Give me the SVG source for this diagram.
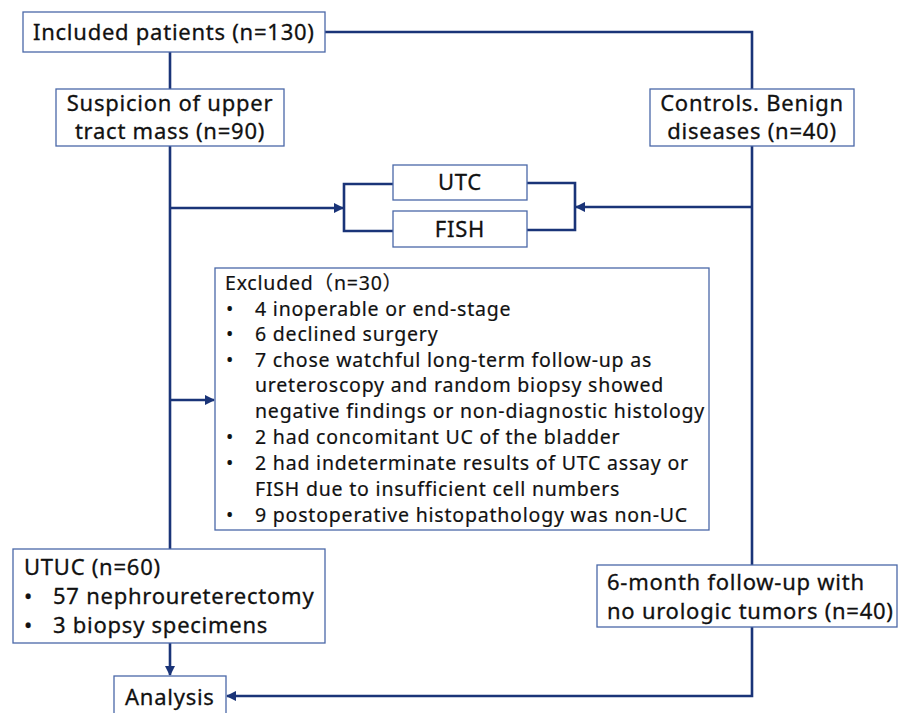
<svg xmlns="http://www.w3.org/2000/svg" width="899" height="713" viewBox="0 0 899 713">
<style>
.box{fill:#fff;stroke:#4a68a8;stroke-width:1.3}
.ln{fill:none;stroke:#1a3478;stroke-width:2.6}
.t{font-family:"Noto Sans","Noto Sans CJK SC",sans-serif;font-size:22px;letter-spacing:0.75px;fill:#111;stroke:#111;stroke-width:0.3}
.s{font-family:"Noto Sans","Noto Sans CJK SC",sans-serif;font-size:19.5px;letter-spacing:0.8px;fill:#111;stroke:#111;stroke-width:0.2}
.c{text-anchor:middle}
</style>
<defs>
<marker id="ah" viewBox="0 0 10 10" refX="9" refY="5" markerWidth="4" markerHeight="4" orient="auto" markerUnits="strokeWidth">
<path d="M0,0 L10,5 L0,10 z" fill="#1a3478"/>
</marker>
</defs>
<rect width="899" height="713" fill="#fff"/>
<g id="connectors">
<line class="ln" x1="170" y1="52" x2="170" y2="89"/>
<line class="ln" x1="170" y1="146" x2="170" y2="549"/>
<line class="ln" x1="170" y1="643" x2="170" y2="675" marker-end="url(#ah)"/>
<polyline class="ln" points="325,32 752,32 752,89"/>
<line class="ln" x1="752" y1="146" x2="752" y2="565"/>
<polyline class="ln" points="752,627 752,696 227,696" marker-end="url(#ah)"/>
<line class="ln" x1="170" y1="208" x2="343" y2="208" marker-end="url(#ah)"/>
<polyline class="ln" points="393,184 344,184 344,231 393,231"/>
<polyline class="ln" points="527,183 575,183 575,230 527,230"/>
<line class="ln" x1="752" y1="207" x2="576" y2="207" marker-end="url(#ah)"/>
<line class="ln" x1="170" y1="400" x2="214" y2="400" marker-end="url(#ah)"/>
</g>
<g id="included">
<rect class="box" x="23" y="12" width="302" height="40"/>
<text class="t" x="33" y="40">Included patients (n=130)</text>
</g>
<g id="suspicion">
<rect class="box" x="56" y="89" width="228" height="57"/>
<text class="t c" x="170" y="111">Suspicion of upper</text>
<text class="t c" x="170" y="139">tract mass (n=90)</text>
</g>
<g id="controls">
<rect class="box" x="650" y="89" width="204" height="57"/>
<text class="t c" x="752" y="111">Controls. Benign</text>
<text class="t c" x="752" y="139">diseases (n=40)</text>
</g>
<g id="utc">
<rect class="box" x="393" y="165" width="134" height="35"/>
<text class="t c" x="460" y="190">UTC</text>
</g>
<g id="fish">
<rect class="box" x="393" y="211" width="134" height="36"/>
<text class="t c" x="460" y="237">FISH</text>
</g>
<g id="excluded">
<rect class="box" x="215" y="268" width="494" height="262"/>
<text class="s" x="225" y="290">Excluded（n=30）</text>
<g class="s">
<text x="226" y="316">•</text><text x="255" y="316">4 inoperable or end-stage</text>
<text x="226" y="341">•</text><text x="255" y="341">6 declined surgery</text>
<text x="226" y="367">•</text><text x="255" y="367">7 chose watchful long-term follow-up as</text>
<text x="255" y="392">ureteroscopy and random biopsy showed</text>
<text x="255" y="418">negative findings or non-diagnostic histology</text>
<text x="226" y="444">•</text><text x="255" y="444">2 had concomitant UC of the bladder</text>
<text x="226" y="470">•</text><text x="255" y="470">2 had indeterminate results of UTC assay or</text>
<text x="255" y="496">FISH due to insufficient cell numbers</text>
<text x="226" y="522">•</text><text x="255" y="522">9 postoperative histopathology was non-UC</text>
</g>
</g>
<g id="utuc">
<rect class="box" x="13" y="549" width="312" height="94"/>
<text class="t" x="24" y="575">UTUC (n=60)</text>
<text class="t" x="24" y="604">•</text><text class="t" x="53" y="604">57 nephroureterectomy</text>
<text class="t" x="24" y="633">•</text><text class="t" x="53" y="633">3 biopsy specimens</text>
</g>
<g id="followup">
<rect class="box" x="597" y="565" width="300" height="62"/>
<text class="t" x="607" y="590">6-month follow-up with</text>
<text class="t" x="607" y="619">no urologic tumors (n=40)</text>
</g>
<g id="analysis">
<rect class="box" x="114" y="676" width="112" height="45"/>
<text class="t" x="125" y="705">Analysis</text>
</g>
</svg>
